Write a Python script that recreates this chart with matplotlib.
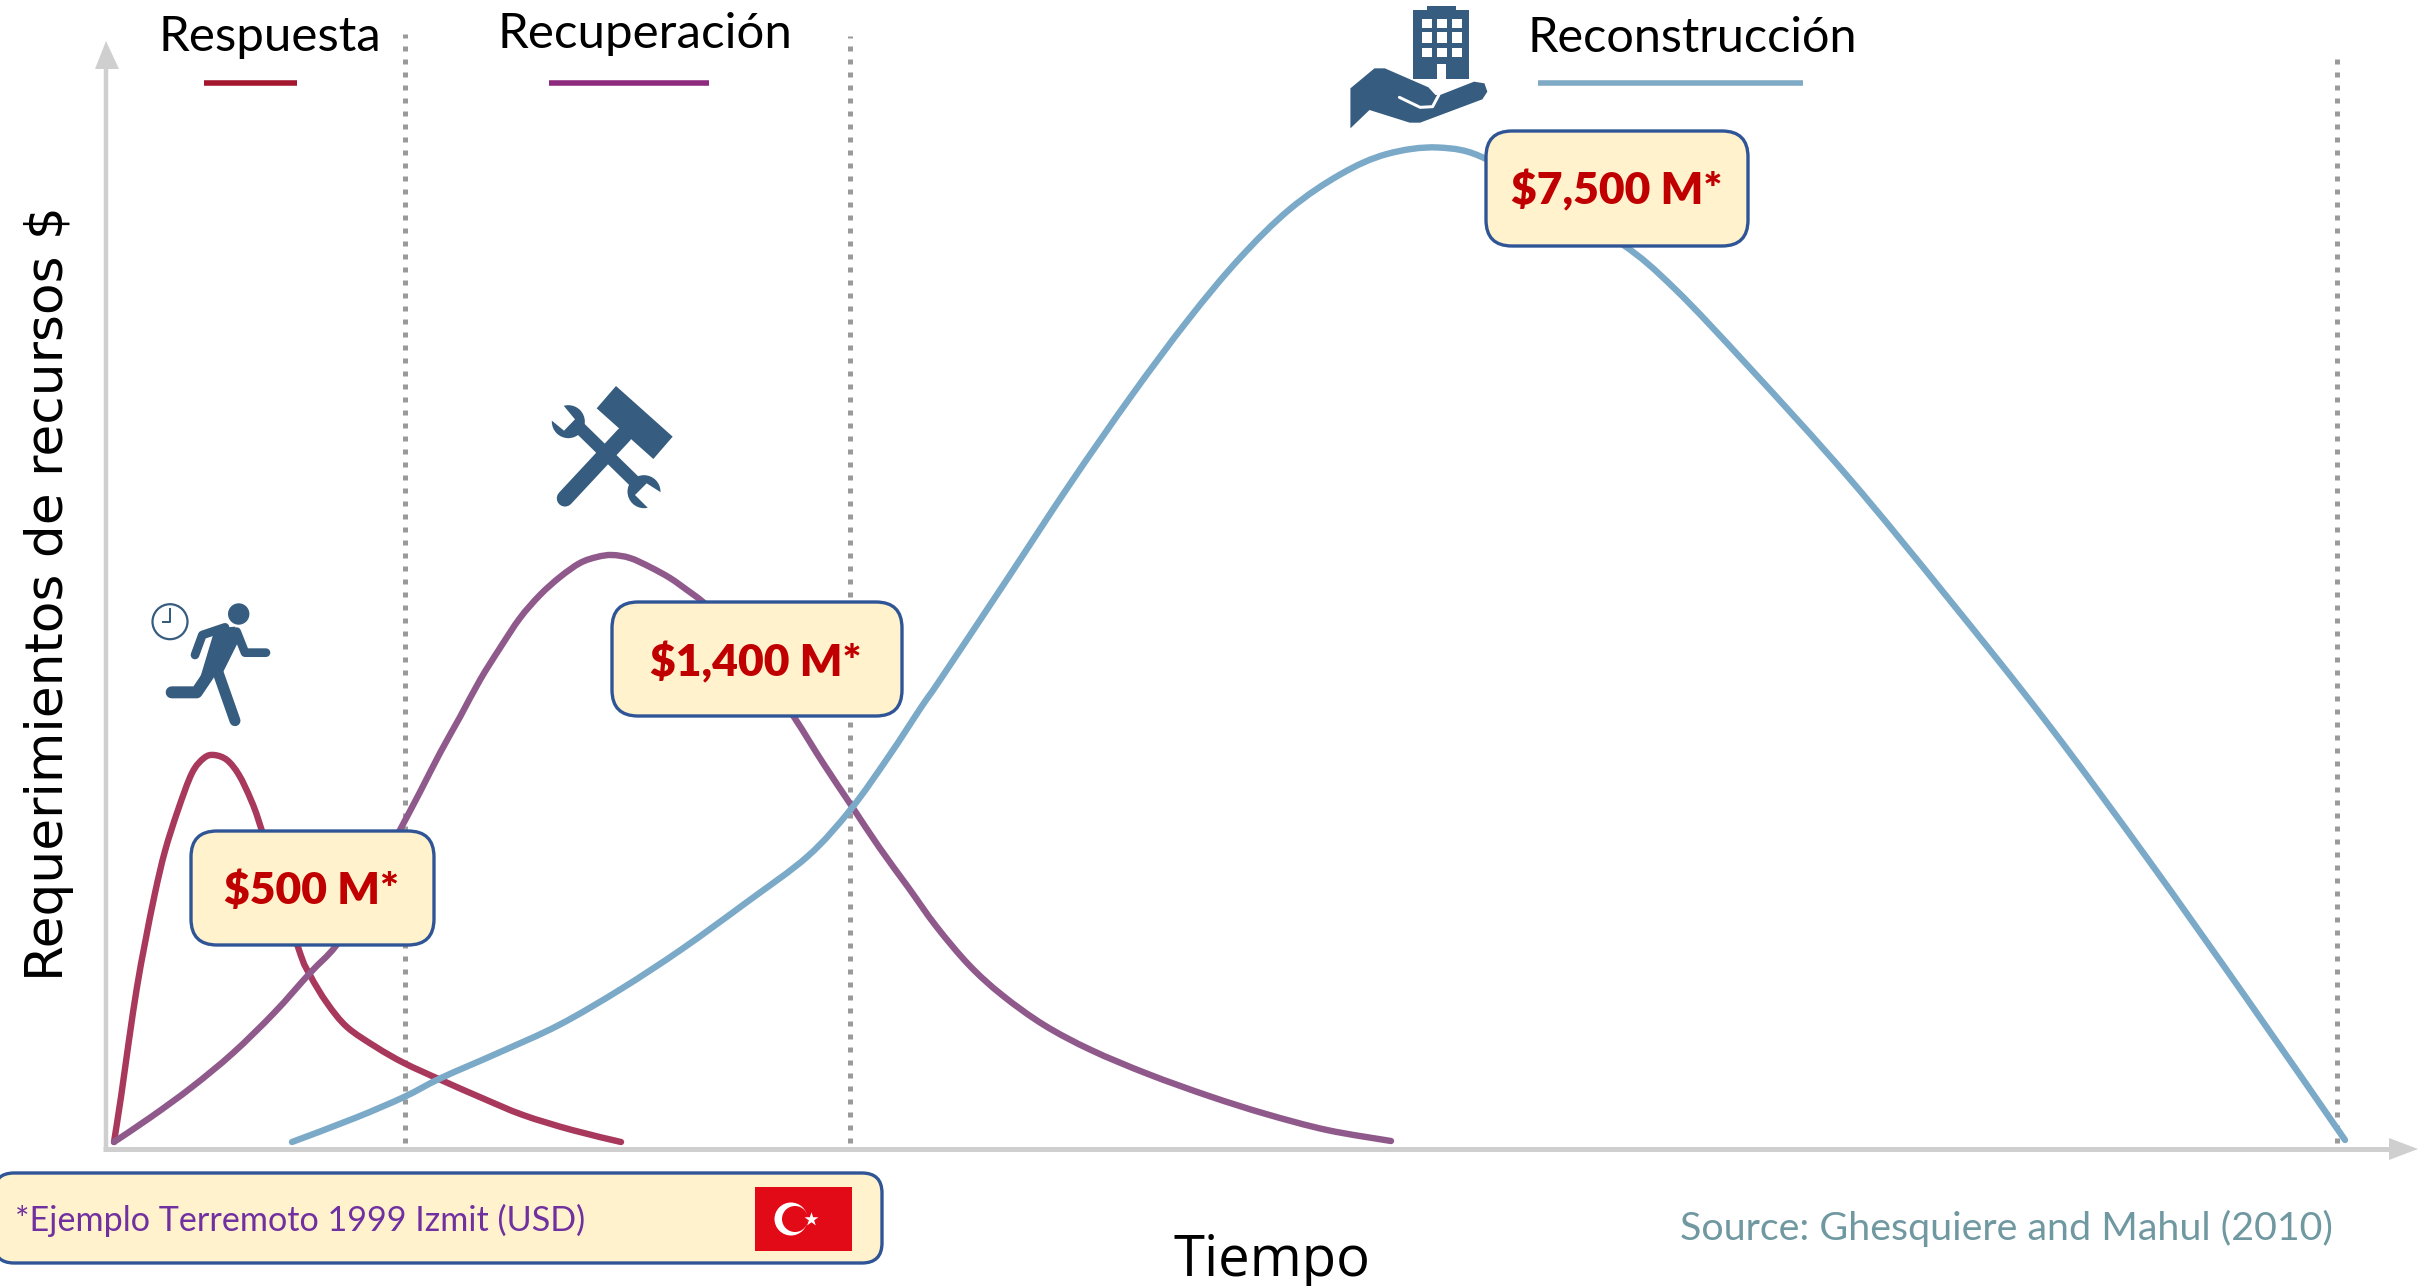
import matplotlib
matplotlib.use("Agg")
import matplotlib.pyplot as plt
import numpy as np
from matplotlib.path import Path
from matplotlib.patches import PathPatch, FancyBboxPatch, Polygon, Circle, Rectangle

# Curves. Tiempo and recursos in picture pixels from the axes origin
X0, Y0 = 106, 1149

respuesta_t = [8, 15, 23, 31, 39, 49, 59, 72, 86, 98, 108, 121, 133, 145, 155, 192, 204, 221, 241, 270, 298, 335, 376, 417, 466, 515]
respuesta_r = [7, 52, 109, 162, 206, 256, 298, 339, 376, 391, 394, 389, 374, 349, 321, 202, 174, 146, 122, 102, 86, 69, 51, 34, 19, 7]

recuperacion_t = [8, 45, 86, 127, 168, 204, 229, 250, 294, 314, 334, 354, 374, 394, 414, 434, 454, 474, 491, 506, 524, 544, 564, 581, 597,
                  620, 650, 688, 717, 745, 773, 802, 830, 863, 896, 938, 985, 1042, 1103, 1160, 1221, 1285]
recuperacion_r = [7, 32, 62, 96, 136, 176, 202, 235, 319, 357, 396, 432, 469, 501, 531, 554, 572, 586, 592, 594, 591, 582, 571, 559, 547,
                  526, 488, 432, 386, 344, 302, 262, 223, 184, 154, 124, 99, 75, 53, 35, 19, 8]

reconstruccion_t = [186, 249, 298, 335, 392, 453, 515, 576, 641, 702, 745, 783, 816, 834, 898, 964, 1026, 1082, 1133, 1184, 1235,
                    1281, 1332, 1380, 1445, 1516, 1569, 1643, 1743, 1842, 1942, 2041, 2141, 2239]
reconstruccion_r = [7, 31, 52, 71, 96, 124, 160, 200, 247, 293, 340, 393, 443, 469, 565, 665, 754, 829, 890, 940, 975, 995, 1001.5,
                    990, 945, 905, 860, 782, 671, 551, 425, 291, 150, 9]

fases_t = [299, 744, 2231]
fases_tope = [1115, 1113, 1090]

C_RESP = "#A8385C"
C_RECU = "#8F5A8B"
C_RECO = "#7BA9C8"
C_ICON = "#365C7F"
C_EJE = "#CFCFCF"
C_CAJA = "#FFF2CC"
C_BORDE = "#2F5597"


def px(x, y):
    return x - X0, Y0 - y


def pts(puntos, ox, oy, sx, sy):
    # coordenadas de zoom a coordenadas del eje
    return [px(ox + u / sx, oy + v / sy) for u, v in puntos]


def curva(ax, t, r, color):
    p = np.column_stack([t, r])
    p = np.vstack([p[0], p, p[-1]])
    verts = [p[1]]
    codes = [Path.MOVETO]
    for i in range(1, len(p) - 2):
        verts += [p[i] + (p[i + 1] - p[i - 1]) / 6, p[i + 1] - (p[i + 2] - p[i]) / 6, p[i + 1]]
        codes += [Path.CURVE4] * 3
    ax.add_patch(PathPatch(Path(verts, codes), fill=False, edgecolor=color, lw=4.6, capstyle="round", zorder=3))


def caja(ax, x0, y0, x1, y1, r=26):
    a, b = px(x0, y1)
    ax.add_patch(FancyBboxPatch((a + r, b + r), x1 - x0 - 2 * r, y1 - y0 - 2 * r, boxstyle=f"round,pad={r},rounding_size={r}",
                                fc=C_CAJA, ec=C_BORDE, lw=2.4, zorder=5))


def trazo(ax, puntos, ox, oy, sx, sy, ancho, color=C_ICON, cap="round", z=6):
    q = np.array(pts(puntos, ox, oy, sx, sy))
    ax.plot(q[:, 0], q[:, 1], color=color, lw=ancho / 1.389, solid_capstyle=cap, solid_joinstyle="round", zorder=z)


def poli(ax, puntos, ox, oy, sx, sy, color=C_ICON, z=6):
    ax.add_patch(Polygon(pts(puntos, ox, oy, sx, sy), closed=True, fc=color, ec="none", zorder=z))


fig = plt.figure(figsize=(24.3, 12.86), dpi=100)
ax = fig.add_axes([0, 0, 1, 1])
ax.set_xlim(-X0, 2430 - X0)
ax.set_ylim(Y0 - 1286, Y0)
ax.axis("off")

# ejes con flecha
ax.plot([0, 0], [0, 1090], color=C_EJE, lw=3.2, zorder=1, solid_capstyle="butt")
ax.plot([-3, 2285], [0, 0], color=C_EJE, lw=3.6, zorder=1, solid_capstyle="butt")
ax.add_patch(Polygon([px(106, 41), px(95, 69), px(119, 69)], fc=C_EJE, ec="none", zorder=1))
ax.add_patch(Polygon([px(2418, 1149), px(2389, 1138), px(2389, 1160)], fc=C_EJE, ec="none", zorder=1))

# limites de cada fase
for t, tope in zip(fases_t, fases_tope):
    ax.plot([t, t], [6, tope], color="#9A9A9A", lw=3.6, linestyle=(0, (1, 1.6)), zorder=2)

curva(ax, respuesta_t, respuesta_r, C_RESP)
curva(ax, recuperacion_t, recuperacion_r, C_RECU)
curva(ax, reconstruccion_t, reconstruccion_r, C_RECO)

# encabezados
ax.text(*px(270, 51), "Respuesta", fontsize=35.5, family="Lato", ha="center", va="baseline", color="black")
ax.text(*px(645, 48), "Recuperación", fontsize=35.5, family="Lato", ha="center", va="baseline", color="black")
ax.text(*px(1692, 52), "Reconstrucción", fontsize=35, family="Lato", ha="center", va="baseline", color="black")
ax.plot(*zip(px(204, 83), px(297, 83)), color="#A5172F", lw=4, solid_capstyle="butt")
ax.plot(*zip(px(549, 83), px(709, 83)), color="#8E2A7E", lw=4, solid_capstyle="butt")
ax.plot(*zip(px(1538, 83), px(1803, 83)), color="#7FAAC5", lw=4, solid_capstyle="butt")

# cajas de montos
caja(ax, 191, 831, 434, 945)
caja(ax, 612, 602, 902, 716)
caja(ax, 1486, 131, 1748, 246)
ax.text(*px(311, 891), "$500 M*", fontsize=32, family="Lato", weight="heavy", color="#C00000", ha="center", va="center", zorder=7)
ax.text(*px(756, 662), "$1,400 M*", fontsize=32, family="Lato", weight="heavy", color="#C00000", ha="center", va="center", zorder=7)
ax.text(*px(1617, 190), "$7,500 M*", fontsize=32, family="Lato", weight="heavy", color="#C00000", ha="center", va="center", zorder=7)

# nota y bandera
caja(ax, -6, 1173, 882, 1263, r=20)
ax.text(*px(15, 1220), "*Ejemplo Terremoto 1999 Izmit (USD)", fontsize=24.6, family="Lato", color="#7030A0", ha="left", va="center", zorder=7)
ax.add_patch(Rectangle(px(755, 1251), 97, 64, fc="#E30A17", ec="none", zorder=6))
ax.add_patch(Circle(px(791, 1219), 16.5, fc="white", ec="none", zorder=7))
ax.add_patch(Circle(px(795, 1219), 13, fc="#E30A17", ec="none", zorder=8))
ax.scatter(*px(811, 1219), marker="*", s=110, c="white", linewidths=0, zorder=9)

# textos de ejes
ax.text(*px(49, 594), "Requerimientos de recursos $", fontsize=37.3, family="DejaVu Sans", rotation=90, ha="center", va="center", color="black")
ax.text(*px(1272, 1261), "Tiempo", fontsize=40.5, family="Open Sans", ha="center", va="center", color="black")
ax.text(*px(2006, 1228), "Source: Ghesquiere and Mahul (2010)", fontsize=28.4, family="Lato", ha="center", va="center", color="#6F98A1")

# icono corredor
R = (140, 590, 3, 3)
ax.add_patch(Circle(px(238.7, 614), 10.7, fc=C_ICON, ec="none", zorder=6))
poli(ax, [(225, 115), (285, 110), (300, 145), (250, 245), (215, 265), (180, 265)], *R)
trazo(ax, [(255, 112), (187, 135), (165, 195)], *R, 8.7)
trazo(ax, [(290, 125), (315, 188), (378, 188)], *R, 8.7)
trazo(ax, [(205, 255), (170, 307), (95, 307)], *R, 12)
trazo(ax, [(235, 250), (285, 392)], *R, 11)
ax.add_patch(Circle(px(170, 621.7), 17.5, fc="white", ec=C_ICON, lw=1.6, zorder=6))
trazo(ax, [(90, 55), (90, 95), (65, 95)], *R, 2, cap="butt")

# icono herramientas
H = (540, 380, 3, 3)
poli(ax, [(170, 85), (228, 18), (398, 170), (340, 237)], *H)
trazo(ax, [(252, 165), (75, 355)], *H, 16.5)
trazo(ax, [(100, 125), (320, 340)], *H, 12.5, cap="butt")
ax.add_patch(Circle(px(540 + 85 / 3, 380 + 125 / 3), 16.5, fc=C_ICON, ec="none", zorder=6))
ax.add_patch(Circle(px(540 + 312 / 3, 380 + 335 / 3), 16.5, fc=C_ICON, ec="none", zorder=6))
poli(ax, [(72, 152), (105, 118), (65, 70), (15, 105)], *H, color="white", z=7)
poli(ax, [(285, 345), (320, 310), (375, 345), (335, 395)], *H, color="white", z=7)

# icono edificio sobre la mano
B = (1250, 0, 2.41, 3)
poli(ax, [(393, 30), (427, 30), (427, 18), (497, 18), (497, 30), (528, 30), (528, 238), (393, 238)], *B)
for x0, x1 in [(414, 438), (450, 474), (486, 510)]:
    for y0, y1 in [(58, 85), (97, 128), (143, 170)]:
        poli(ax, [(x0, y0), (x1, y0), (x1, y1), (x0, y1)], *B, color="white", z=7)
poli(ax, [(450, 192), (473, 192), (473, 238), (450, 238)], *B, color="white", z=7)
poli(ax, [(242, 265), (300, 205), (325, 205), (430, 262), (447, 285), (458, 285), (540, 245), (565, 250), (572, 275), (560, 298),
          (410, 368), (385, 368), (288, 330), (242, 385)], *B)
trazo(ax, [(360, 292), (410, 322), (440, 320), (455, 285)], *B, 3, color="white", z=7)

fig.savefig("out.png", dpi=100)
